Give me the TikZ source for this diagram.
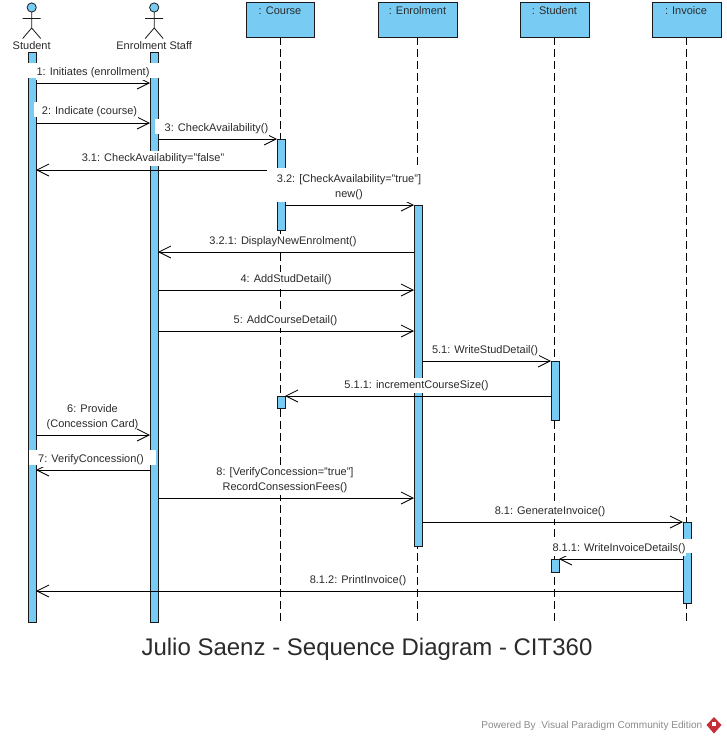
\documentclass[tikz,border=0pt]{standalone}
\usepackage{fontspec}
\setmainfont{Liberation Sans}
\usetikzlibrary{arrows.meta}
\definecolor{barblue}{HTML}{78CCF4}
\definecolor{edgec}{HTML}{1A1A1A}
\definecolor{txt}{HTML}{2B2B2B}
\definecolor{logored}{HTML}{C4303A}
\tikzset{
  x=1pt,y=-1pt,
  actbar/.style={draw=edgec,line width=.8pt,fill=barblue,rectangle,inner sep=0pt,minimum width=8pt,anchor=north west},
  objbox/.style={draw=edgec,line width=.8pt,fill=barblue,rectangle,inner sep=0pt,anchor=north west},
  lifeline/.style={draw=black,line width=.8pt,dash pattern=on 8pt off 4pt},
  msg/.style={draw=black,line width=.8pt,-{Straight Barb[length=12pt,width=12pt,line width=.8pt]}},
  lab/.style={fill=white,text=txt,font=\fontsize{11}{15}\selectfont,align=center,inner xsep=1pt,inner ysep=2pt,yshift=-1.5pt},
  actorl/.style={draw=edgec,line width=.8pt},
  actorname/.style={text=txt,font=\fontsize{11}{12}\selectfont,inner sep=0pt,yshift=-.5pt}
}
\begin{document}
\begin{tikzpicture}
\useasboundingbox (0,0) rectangle (726,742);
\fill[white] (0,0) rectangle (726,742);
% coordinates of lifelines
\foreach \n/\x/\ya/\yb in {lc/280/37/623,le/417.5/37/623,ls/554/37/623,li/686/37/623}{
  \coordinate (\n t) at (\x,\ya); \coordinate (\n b) at (\x,\yb);
  \draw[lifeline] (\n t) -- (\n b);
}
% object boxes
\node[objbox,minimum width=68pt,minimum height=35pt] (course) at (246,2) {};
\node[objbox,minimum width=79pt,minimum height=35pt] (enrol) at (378,2) {};
\node[objbox,minimum width=69pt,minimum height=35pt] (studobj) at (520,2) {};
\node[objbox,minimum width=69pt,minimum height=35pt] (invoice) at (652,2) {};
\node[actorname,anchor=center] (coursel) at (280,10) {: Course};
\node[actorname,anchor=center] (enroll) at (417.5,10) {: Enrolment};
\node[actorname,anchor=center] (studl) at (554.5,10) {: Student};
\node[actorname,anchor=center] (invl) at (686,10) {: Invoice};
% actors
\foreach \n/\x/\t in {a/31.7/Student,b/154.2/Enrolment Staff}{
  \draw[actorl,fill=barblue] (\x,7.5) circle (4.6pt);
  \draw[actorl] (\x,12) -- (\x,28) (\x-9,18.5) -- (\x+9,18.5) (\x-9,38.5) -- (\x,28) -- (\x+9,38.5);
  \node[actorname] (\n name) at (\x,45) {\t};
}
% activation bars
\node[actbar,minimum height=570pt] (ba) at (28,52) {};
\node[actbar,minimum height=570pt] (bb) at (150,52) {};
\node[actbar,minimum height=91pt] (bc1) at (277,139) {};
\node[actbar,minimum height=12pt] (bc2) at (277,396) {};
\node[actbar,minimum height=341pt] (be) at (414,205) {};
\node[actbar,minimum height=59pt] (bs1) at (551,361) {};
\node[actbar,minimum height=13pt] (bs2) at (551,559) {};
\node[actbar,minimum height=81pt] (bi) at (683,522) {};
% white patches behind labels
\fill[white] (27,63) rectangle (159,78);
\fill[white] (34,102) rectangle (150,117);
\fill[white] (155,119) rectangle (270,134);
\fill[white] (267,168) rectangle (425,200);
\fill[white] (29,450) rectangle (156,465);
\fill[white] (552,539) rectangle (692,553);
% message end points
\coordinate (m1a) at (36,83); \coordinate (m1b) at (150,83);
\coordinate (m2a) at (36,123); \coordinate (m2b) at (150,123);
\coordinate (m3a) at (158,139); \coordinate (m3b) at (277,139);
\coordinate (m31a) at (267,170); \coordinate (m31b) at (36,170);
\coordinate (m32a) at (285,205); \coordinate (m32b) at (414,205);
\coordinate (m321a) at (414,252); \coordinate (m321b) at (158,252);
\coordinate (m4a) at (158,290); \coordinate (m4b) at (414,290);
\coordinate (m5a) at (158,331); \coordinate (m5b) at (414,331);
\coordinate (m51a) at (422,361); \coordinate (m51b) at (551,361);
\coordinate (m511a) at (551,396); \coordinate (m511b) at (285,396);
\coordinate (m6a) at (36,435); \coordinate (m6b) at (150,435);
\coordinate (m7a) at (150,470); \coordinate (m7b) at (36,470);
\coordinate (m8a) at (158,498); \coordinate (m8b) at (414,498);
\coordinate (m81a) at (422,522); \coordinate (m81b) at (683,522);
\coordinate (m811a) at (683,559); \coordinate (m811b) at (559,559);
\coordinate (m812a) at (683,591); \coordinate (m812b) at (36,591);
\foreach \m in {m1,m2,m3,m31,m32,m321,m4,m5,m51,m511,m6,m7,m8,m81,m811,m812}{
  \draw[msg] (\m a) -- (\m b);
}
% labels
\node[lab] (l1) at (93,71) {1: Initiates (enrollment)};
\node[lab] (l2) at (89.5,110) {2: Indicate (course)};
\node[lab] (l3) at (216.5,127) {3: CheckAvailability()};
\node[lab] (l31) at (153,157) {3.1: CheckAvailability="false"};
\node[lab] (l32) at (349,186) {3.2: [CheckAvailability="true"]\\new()};
\node[lab] (l321) at (283,240) {3.2.1: DisplayNewEnrolment()};
\node[lab] (l4) at (286,278) {4: AddStudDetail()};
\node[lab] (l5) at (285.5,319) {5: AddCourseDetail()};
\node[lab] (l51) at (485,349) {5.1: WriteStudDetail()};
\node[lab] (l511) at (416.5,384) {5.1.1: incrementCourseSize()};
\node[lab,fill=none] (l6) at (92.5,415.5) {6: Provide\\(Concession Card)};
\node[lab] (l7) at (91,458) {7: VerifyConcession()};
\node[lab] (l8) at (285,479) {8: [VerifyConcession="true"]\\RecordConsessionFees()};
\node[lab] (l81) at (550,510) {8.1: GenerateInvoice()};
\node[lab] (l811) at (619,547) {8.1.1: WriteInvoiceDetails()};
\node[lab] (l812) at (358,579) {8.1.2: PrintInvoice()};
% title
\node[text=txt,font=\fontsize{24}{28}\selectfont,inner sep=0pt,yshift=-2pt] (title) at (367,647) {Julio Saenz - Sequence Diagram - CIT360};
% footer
\node[text=gray!90,font=\fontsize{10.1}{12}\selectfont,inner sep=0pt,anchor=east] (foot) at (702.5,726) {Powered By \textcolor{gray!30}{:}Visual Paradigm Community Edition};
\fill[logored] (714,717) -- (721.5,725) -- (714,733.5) -- (706.5,725) -- cycle;
\fill[white] (712,722) rectangle (716,726);
\end{tikzpicture}
\end{document}
